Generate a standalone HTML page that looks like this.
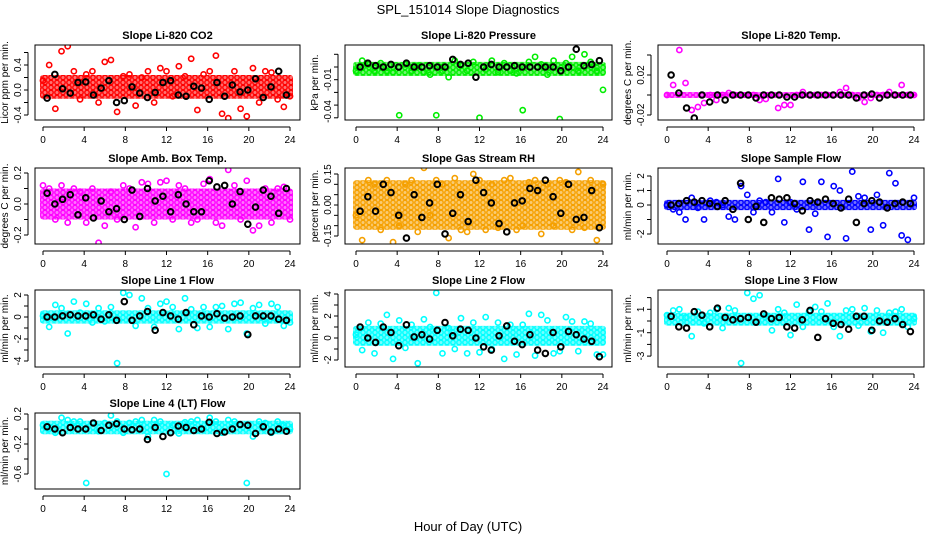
<!DOCTYPE html>
<html><head><meta charset="utf-8">
<style>
body{margin:0;background:#fff;}
svg{display:block;font-family:"Liberation Sans",sans-serif;}
</style></head>
<body>
<svg id="chart" width="936" height="540" viewBox="0 0 936 540" xmlns="http://www.w3.org/2000/svg">
<text x="468" y="14" font-size="13" text-anchor="middle">SPL_151014  Slope Diagnostics</text>
<text x="468" y="531" font-size="13" text-anchor="middle">Hour of Day (UTC)</text>
</svg>
<script>
const xTicks=[0,4,8,12,16,20,24];
const p1Col=[0.15,0.4,-0.3,0.62,0.7,0.3,-0.15,0.25,0.3,-0.2,0.45,0.48,-0.35,0.22,0.25,-0.25,0.2,0.3,-0.2,0.35,0.3,-0.1,0.38,0.22,0.5,-0.32,0.25,0.3,0.55,-0.38,-0.45,0.3,-0.3,-0.42,0.35,-0.2,0.3,0.28,-0.15,-0.27,-0.1];
const p1Blk=[-0.13,0.25,0.02,-0.05,0.12,0.13,-0.08,0.03,0.15,-0.2,-0.17,0.05,-0.05,-0.12,-0.04,0.12,0.15,-0.08,-0.1,0.06,0.03,-0.15,0.12,-0.1,0.08,-0.03,0.0,0.18,-0.12,0.05,0.3,-0.08];
const p2Col=[-0.003,0.005,0.002,-0.003,0.003,-0.003,-0.004,-0.038,0.002,-0.003,0.001,-0.004,-0.006,-0.038,-0.003,-0.008,0.005,0.001,-0.003,0.004,-0.04,-0.002,0.005,-0.004,0.003,-0.003,-0.005,-0.034,0.004,0.008,0.002,-0.006,0.005,-0.041,0.003,0.008,-0.003,0.01,0.004,-0.003,-0.018];
const p2Blk=[0.0,0.003,0.001,0.0,0.002,0.0,0.003,0.0,0.0,0.001,0.0,0.0,0.006,0.002,0.003,-0.008,0.0,0.002,0.0,0.0,0.001,0.0,0.0,0.0,0.0,0.0,-0.003,0.0,0.014,0.001,0.002,0.005];
const p3Col=[0.0,0.01,0.045,0.012,-0.015,-0.012,-0.008,0.0,-0.005,0.0,0.002,0.0,0.0,0.0,0.0,-0.005,-0.004,0.0,-0.013,-0.01,-0.01,0.0,0.003,0.0,0.0,0.0,0.0,0.0,0.003,0.007,0.0,-0.003,-0.007,-0.003,0.0,0.0,0.003,0.0,0.01,0.0,0.0];
const p3Blk=[0.02,0.002,-0.013,-0.023,0.0,-0.007,0.0,-0.005,0.0,0.0,0.0,-0.003,0.0,0.0,0.0,-0.002,-0.002,0.0,0.0,0.0,0.0,0.0,0.0,0.0,-0.003,0.0,0.001,-0.003,0.0,0.0,0.0,0.0];
const p4Col=[0.12,0.1,-0.1,0.12,-0.12,0.1,0.08,-0.12,0.1,-0.25,-0.14,0.08,-0.1,0.12,0.1,-0.15,0.14,0.13,-0.12,0.14,0.15,-0.1,0.12,0.1,-0.12,-0.1,0.13,0.16,-0.12,-0.14,0.22,0.12,-0.1,0.15,-0.17,-0.14,0.1,-0.12,0.1,0.11,-0.1];
const p4Blk=[0.07,0.0,0.03,0.06,-0.07,0.04,-0.09,0.02,-0.05,-0.03,-0.1,0.09,-0.08,0.1,0.02,0.05,-0.05,0.06,0.0,-0.05,-0.05,0.15,0.11,0.12,0.0,0.08,-0.13,-0.02,0.09,0.05,-0.06,0.1];
const p5Col=[-0.05,-0.17,0.12,0.1,-0.12,0.12,-0.18,-0.1,0.1,0.12,-0.13,0.18,-0.05,0.12,0.1,-0.16,0.13,-0.12,-0.13,0.15,0.12,-0.12,0.1,-0.11,0.12,0.13,-0.12,-0.1,0.11,0.12,-0.14,0.1,-0.1,0.12,0.11,-0.12,0.16,-0.11,0.12,-0.17,0.1];
const p5Blk=[-0.03,0.04,-0.03,0.1,0.06,-0.05,-0.16,0.05,-0.06,0.01,0.1,-0.14,-0.04,0.05,-0.08,0.12,0.06,0.01,-0.09,-0.13,0.01,0.02,0.08,0.07,0.12,0.04,-0.04,0.1,-0.07,-0.06,0.07,-0.11];
const p6Col=[0,-0.3,-0.5,-1,0.5,-0.2,-1,0.3,0.2,0,-0.8,-1,1.3,0.7,-0.5,0.3,0.2,-0.5,1.8,-1.2,0.2,-0.3,1.6,-1.7,-0.6,1.6,-2.2,1.3,1.0,-2.3,2.3,0.6,0.5,-1.7,0.7,-1.4,2.2,1.5,-2.1,-2.4,0.5];
const p6Blk=[0,0.1,0.3,0.2,0.3,0.1,-0.1,0.3,-0.3,1.5,-1.0,-0.1,-1.2,0.5,0.4,0.5,0.1,-0.4,0.3,0.2,0.4,0.1,-0.2,0.4,-1.2,0.1,0.3,0.2,-0.2,0.1,0.2,0.1];
const p7Col=[0.1,-0.9,1.1,0.8,-1.5,1.4,0.4,1.2,-0.5,0.8,-0.4,0.9,-4.2,2.2,2.0,-0.8,1.7,0.8,-0.9,1.2,1.4,0.9,-1.1,1.7,0.7,-1.0,0.9,-0.9,0.9,1.0,-1.1,1.2,1.3,-1.5,0.8,1.1,-0.6,1.2,0.9,-0.8,-0.5];
const p7Blk=[0,0,0.1,0.2,0.1,0.1,0.2,-0.2,0.2,-0.3,1.4,-0.3,0.1,0.5,-1.2,0.4,0.1,-0.2,0.4,-0.7,0.1,0,0.3,-0.1,0,0.1,-1.6,0.1,0.1,0.1,-0.2,-0.3];
const p8Col=[0.3,-1.1,1.4,-1.4,1.3,2.1,-1.9,1.6,-0.9,1.2,-2.3,1.7,1.0,4.1,-1.4,0.9,-1.0,1.8,-1.4,1.4,-1.3,1.9,-1.0,1.4,-1.9,1.2,-1.5,1.2,2.2,-1.6,2.1,1.6,-1.4,-1.2,1.9,1.5,-1.2,1.5,1.3,-1.5,-1.5];
const p8Blk=[1.0,0.0,-0.4,1.0,0.5,-0.7,1.2,0.1,0.3,-0.1,0.7,1.4,0.2,0.8,0.7,0.0,-0.8,-1.1,0.2,1.1,-0.3,-0.6,0.3,-1.1,-1.4,0.5,-0.8,0.6,0.3,-0.1,-0.3,-1.7];
const p9Col=[0.5,0.9,1.0,0.3,-1.3,0.8,-0.2,0.7,1.0,-0.6,1.1,0.9,-3.6,2.4,1.9,2.2,0.5,-0.8,1.0,0.7,-1.2,1.4,-0.5,0.8,1.2,0.8,1.5,-0.5,-1.3,0.9,1.0,-0.4,1.1,-0.9,0.9,-1.0,0.7,0.8,1.0,-0.5,0.2];
const p9Blk=[0.4,-0.5,-0.6,0.8,0.5,-0.5,1.1,0.3,0.1,0.2,0.3,-0.1,0.6,0.2,0.3,-0.5,-0.6,0.1,0.9,-1.4,0.2,-0.2,-0.3,-0.7,0.4,0.4,-0.8,0.0,-0.1,0.2,-0.3,-0.9];
const p10Col=[0.05,0.0,-0.05,0.15,0.12,0.1,0.1,-0.72,0.08,-0.03,0.08,0.18,0.1,-0.05,0.08,0.1,0.12,-0.1,0.12,0.1,-0.6,0.05,-0.06,0.09,0.1,0.12,0.0,0.15,0.1,-0.05,0.12,0.1,0.05,-0.72,-0.1,0.1,0.08,-0.05,0.1,0.05,0.0];
const p10Blk=[0.03,0.0,-0.05,0.02,0.0,0.0,0.08,-0.02,0.05,0.07,0.0,-0.01,0.0,-0.14,0.02,-0.1,-0.05,0.04,0.02,-0.02,0.0,0.09,-0.06,-0.04,0.0,0.06,0.05,-0.06,0.03,-0.04,0.0,-0.03];

const NS='http://www.w3.org/2000/svg';
const svg=document.getElementById('chart');
function mk(tag,attrs,parent){const e=document.createElementNS(NS,tag);for(const k in attrs)e.setAttribute(k,attrs[k]);(parent||svg).appendChild(e);return e;}
const defs=mk('defs',{});
const cols=[{l:35,r:300,x0:43,x24:290},{l:345,r:612,x0:356,x24:603},{l:658,r:924,x0:667,x24:914}];
const rows=[{t:45,b:120},{t:168,b:244},{t:290,b:367},{t:413,b:489}];
const panels=[
 {key:'co2',title:'Slope Li-820 CO2',ylab:'Licor ppm per min.',c:0,r:0,color:'#ff0000',a:[90,0],b:[65,0.4],ticks:[-0.4,-0.2,0,0.2,0.4,0.6],labs:{'-0.4':'-0.4','0':'0.0','0.4':'0.4'},band:[-0.14,0.24],col:p1Col,blk:p1Blk},
 {key:'pressure',title:'Slope Li-820 Pressure',ylab:'kPa per min.',c:1,r:0,color:'#00ee00',a:[67,0],b:[79.7,-0.01],ticks:[0.01,0,-0.01,-0.02,-0.03,-0.04],labs:{'-0.01':'-0.01','-0.035':'-0.04'},band:[-0.007,0.004],col:p2Col,blk:p2Blk},
 {key:'temp',title:'Slope Li-820 Temp.',ylab:'degrees C per min.',c:2,r:0,color:'#ff00ff',a:[95,0],b:[75,0.02],ticks:[-0.02,0,0.02,0.04],labs:{'-0.02':'-0.02','0.02':'0.02'},band:[-0.003,0.003],col:p3Col,blk:p3Blk},
 {key:'amb-temp',title:'Slope Amb. Box Temp.',ylab:'degrees C per min.',c:0,r:1,color:'#ff00ff',a:[204,0],b:[173,0.2],ticks:[-0.2,-0.1,0,0.1,0.2],labs:{'-0.2':'-0.2','0':'0.0','0.2':'0.2'},band:[-0.1,0.1],col:p4Col,blk:p4Blk},
 {key:'rh',title:'Slope Gas Stream RH',ylab:'percent per min.',c:1,r:1,color:'#f5a000',a:[205,0],b:[174,0.15],ticks:[-0.15,-0.1,-0.05,0,0.05,0.1,0.15],labs:{'-0.15':'-0.15','0':'0.00','0.15':'0.15'},band:[-0.12,0.12],col:p5Col,blk:p5Blk},
 {key:'sample-flow',title:'Slope Sample Flow',ylab:'ml/min per min.',c:2,r:1,color:'#0000ff',a:[205,0],b:[176,2],ticks:[-2,-1,0,1,2],labs:{'-2':'-2','0':'0','1':'1','2':'2'},band:[-0.35,0.35],col:p6Col,blk:p6Blk},
 {key:'line1',title:'Slope Line 1 Flow',ylab:'ml/min per min.',c:0,r:2,color:'#00ffff',a:[317,0],b:[295,2],ticks:[-4,-3,-2,-1,0,1,2],labs:{'-4':'-4','-2':'-2','0':'0','2':'2'},band:[-0.6,0.6],col:p7Col,blk:p7Blk},
 {key:'line2',title:'Slope Line 2 Flow',ylab:'ml/min per min.',c:1,r:2,color:'#00ffff',a:[338,0],b:[316,2],ticks:[-2,-1,0,1,2,3,4],labs:{'-2':'-2','0':'0','2':'2','4':'4'},band:[-0.7,1.1],col:p8Col,blk:p8Blk},
 {key:'line3',title:'Slope Line 3 Flow',ylab:'ml/min per min.',c:2,r:2,color:'#00ffff',a:[321,0],b:[309.3,1],ticks:[-3,-2,-1,0,1,2],labs:{'-3':'-3','-1':'-1','1':'1'},band:[-0.4,0.7],col:p9Col,blk:p9Blk},
 {key:'line4',title:'Slope Line 4 (LT) Flow',ylab:'ml/min per min.',c:0,r:3,color:'#00ffff',a:[429,0],b:[414,0.2],ticks:[-0.6,-0.4,-0.2,0,0.2],labs:{'-0.6':'-0.6','-0.2':'-0.2','0.2':'0.2'},band:[-0.07,0.11],col:p10Col,blk:p10Blk}
];
panels.forEach(p=>{
 const C=cols[p.c],R=rows[p.r];
 const xs=v=>C.x0+(C.x24-C.x0)*v/24;
 const k=(p.b[0]-p.a[0])/(p.b[1]-p.a[1]);
 const ys=v=>p.a[0]+(v-p.a[1])*k;
 const pat=mk('pattern',{id:'pat-'+p.key,width:6,height:5,patternUnits:'userSpaceOnUse'},defs);
 mk('rect',{x:0,y:0,width:6,height:5,fill:p.color,opacity:0.55},pat);
 mk('circle',{cx:3,cy:2.5,r:2.2,fill:'none',stroke:p.color,'stroke-width':1.4},pat);
 const g=mk('g',{});
 
 
 const t=mk('text',{x:(C.l+C.r)/2,y:R.t-6,'font-size':11,'font-weight':'bold','text-anchor':'middle'},g);
 t.textContent=p.title;
 
 
 const clip=mk('clipPath',{id:'clip-'+p.key},g);
 mk('rect',{x:C.l,y:R.t,width:C.r-C.l,height:R.b-R.t},clip);
 const pg=mk('g',{'clip-path':'url(#clip-'+p.key+')'},g);
 const bTop=ys(p.band[1]),bBot=ys(p.band[0]);
 const band=mk('rect',{x:xs(0)-3,y:Math.min(bTop,bBot),width:xs(24)-xs(0)+6,height:Math.abs(bBot-bTop),fill:'url(#pat-'+p.key+')',rx:3},pg);
 
 
 p.col.forEach((v,i)=>{
  const c=mk('circle',{cx:xs(i*24/(p.col.length-1)),cy:ys(v),r:2.6,fill:'none',stroke:p.color,'stroke-width':1.6},pg);
  
  
 });
 p.blk.forEach((v,i)=>{
  const c=mk('circle',{cx:xs(0.4+i*0.75),cy:ys(v),r:2.8,fill:'none',stroke:'#000','stroke-width':2},pg);
  
  
 });
 mk('rect',{x:C.l,y:R.t,width:C.r-C.l,height:R.b-R.t,fill:'none',stroke:'#000','stroke-width':1},g);
 const xb=R.b+7;
 mk('line',{x1:xs(0),x2:xs(24),y1:xb,y2:xb,stroke:'#000'},g);
 xTicks.forEach(v=>{
  mk('line',{x1:xs(v),x2:xs(v),y1:xb,y2:xb+4,stroke:'#000'},g);
  const tl=mk('text',{x:xs(v),y:xb+16,'font-size':10,'text-anchor':'middle'},g);
  tl.textContent=v;
  
  
 });
 const ya=C.l-7;
 const yv=p.ticks.map(ys);
 mk('line',{x1:ya,x2:ya,y1:Math.min(...yv),y2:Math.max(...yv),stroke:'#000'},g);
 p.ticks.forEach(v=>{
  const y=ys(v);
  mk('line',{x1:ya-4,x2:ya,y1:y,y2:y,stroke:'#000'},g);
 });
 Object.keys(p.labs).forEach(key=>{
  const y=ys(parseFloat(key));
  const tl=mk('text',{x:ya-7,y:y,'font-size':10,'text-anchor':'middle',transform:'rotate(-90 '+(ya-7)+' '+y+')'},g);
  tl.textContent=p.labs[key];
  
  
 });
 const yl=mk('text',{x:C.l-27,y:(R.t+R.b)/2,'font-size':10,'text-anchor':'middle',transform:'rotate(-90 '+(C.l-27)+' '+((R.t+R.b)/2)+')'},g);
 yl.textContent=p.ylab;
 
 
});
</script>
</body></html>
